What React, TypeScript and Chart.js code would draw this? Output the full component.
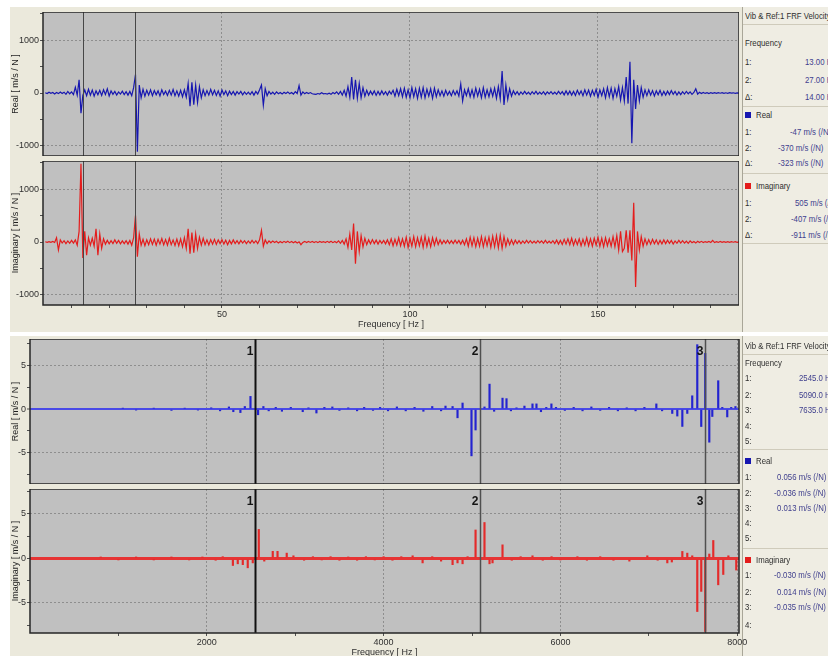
import React, { useEffect, useRef } from 'react';
import { Chart, registerables } from 'chart.js';

Chart.register(...registerables);

const FONT = '"Liberation Sans", Arial, sans-serif';
const FIG_BG = '#ebe9dc';
const LEG_BG = '#efede3';
const PLOT_BG = '#c0c0c0';
const GRID = '#8e8e8e';
const BLUE = '#1616b0';
const RED = '#e41c1c';
const BLUE_BAR = '#2323d0';
const RED_BAR = '#e42a2a';
const TICK_COLOR = '#303030';

// ---------- Top figure: FRF 0-188 Hz, sampled every 0.5 Hz starting at 3 Hz ----------
const TOP_F_START = 3;
const TOP_F_STEP = 0.5;
const TOP_X_MIN = 2.4;
const TOP_X_MAX = 187.5;
const TOP_Y_MIN = -1190;
const TOP_Y_MAX = 1530;
const TOP_CURSORS = [13, 27];
const TOP_X_TICKS = [10, 20, 30, 40, 50, 60, 70, 80, 90, 100, 110, 120, 130, 140, 150, 160, 170, 180];
const TOP_X_LABELS = [50, 100, 150];
const TOP_Y_TICKS = [-1000, -500, 0, 500, 1000, 1500];
const TOP_Y_LABELS = [-1000, 0, 1000];
const TOP_Y_GRID = [-1000, 1000];

const TOP_REAL = [
  5, -10, 15, -5, 10, -20, 8, -12, 20, -8,
  15, -25, 30, -15, 20, -30, 110, -40, 250, -380,
  -47, 60, -50, 70, -40, 55, -60, 40, -35, 50,
  -45, 60, -30, 80, -55, 40, -25, 30, -40, 20,
  -20, 35, -30, 25, -40, 30, -50, 100, 350, -1110,
  150, -90, 70, -60, 50, -40, 60, -50, 45, -35,
  40, -55, 60, -30, 35, -45, 50, -40, 65, -50,
  40, -60, 50, -70, 60, -80, 180, -250, 200, -220,
  150, -180, 120, -90, 60, -50, 45, -40, 70, -35,
  50, -45, 40, -60, 55, -30, 40, -50, 35, -30,
  30, -40, 25, -20, 30, -35, 20, -25, 15, -30,
  25, -40, 30, -20, 60, 150, -230, 80, -50, 30,
  -20, 15, -25, 20, -15, 10, -20, 15, -10, 20,
  -15, 10, -20, 25, -10, 140, -40, 20, -15, 10,
  -10, 8, -15, -20, -25, -10, -20, 5, -15, -10,
  -20, -5, -25, 10, -15, 20, -25, 30, -40, 50,
  -60, 120, -80, 300, -120, 250, -100, 180, -90, 100,
  -60, 50, -40, 35, -30, 40, -45, 30, -35, 40,
  -30, 25, -40, 35, -20, 50, -60, 70, -50, 80,
  -70, 90, -80, 60, -90, 100, -70, 80, -100, 90,
  -80, 100, -90, 70, -60, 80, -100, 90, -70, 60,
  -50, 40, -60, 50, -40, 30, -50, 45, -35, 40,
  -60, 170, -150, 60, -50, 80, -70, 60, -80, 90,
  -60, 70, -90, 100, -80, 60, -70, 80, -60, 90,
  -100, 120, -110, 415, -225, 150, -120, 80, -60, 40,
  -30, 25, -35, 20, -25, 30, -20, 15, -30, 25,
  -20, 30, -25, 15, -20, 25, -30, 20, -15, 25,
  -20, 15, -25, 30, -20, 25, -35, 40, -30, 35,
  -40, 30, -45, 50, -30, 40, -50, 60, -40, 55,
  -60, 50, -45, 70, -80, 60, -50, 80, -90, 100,
  -70, 90, -100, 80, -60, 120, -130, 100, -150, 300,
  -200, 590, -950, 250, -300, 150, -150, 100, -80, 60,
  -50, 60, -40, 45, -55, 40, -35, 50, -45, 30,
  -40, 35, -30, 45, -25, 30, -40, 20, -30, 25,
  -20, 30, -15, 20, -25, 10, 80, -20, 15, -10,
  10, -8, 6, -10, 8, -5, 5, -8, 6, -4,
  5, -6, 4, -5, 6, -3, 4, -5, 3, -4,
  3,
];

const TOP_IMAG = [
  5, -5, 8, -6, 10, -8, 80, -150, 40, -20,
  25, -30, 20, -25, 30, -20, 40, -60, 200, 1480,
  -300, 200, -250, 80, -60, 70, -80, 250, -250, 150,
  -120, 60, -40, 30, -35, 25, -30, 40, -25, 30,
  -35, 20, -30, 25, -40, 30, -60, 80, 500, -280,
  150, -60, 50, -70, 40, -50, 60, -45, 55, -60,
  50, -40, 65, -55, 45, -60, 70, -50, 40, -65,
  55, -70, 60, -90, 80, -120, 250, -220, 180, -200,
  150, -120, 90, -60, 70, -50, 40, -55, 45, -40,
  50, -45, 40, -30, 45, -40, 35, -50, 30, -35,
  40, -30, 25, -35, 30, -20, 25, -30, 20, -25,
  30, -20, 25, -30, 40, 220, -80, 40, -30, 20,
  -15, 20, -10, 15, -20, 10, -15, 12, -10, 15,
  -12, 10, -15, 8, -20, 5, -50, -8, 12, -10,
  10, -8, 12, -10, 8, -12, 10, -6, 8, -10,
  12, -10, 15, -12, 10, -15, 20, -25, 30, -40,
  60, -100, 150, -150, 350, -410, 200, -180, 120, -90,
  70, -50, 40, -35, 45, -30, 35, -40, 30, -25,
  30, -35, 40, -50, 60, -70, 50, -60, 80, -70,
  60, -80, 90, -100, 70, -80, 100, -90, 80, -70,
  90, -100, 110, -80, 70, -90, 80, -60, 70, -50,
  40, -35, 30, -25, 35, -30, 25, -30, 35, -25,
  30, -40, 35, -50, 60, -80, 90, -70, 80, -90,
  70, -80, 100, -90, 80, -70, 90, -100, 110, -90,
  120, -110, 130, -120, 100, -80, 60, -50, 40, -45,
  35, -30, 25, -30, 20, -25, 30, -20, 25, -20,
  15, -20, 25, -15, 20, -25, 30, -20, 15, -20,
  25, -30, 35, -40, 30, -45, 50, -40, 60, -50,
  70, -60, 45, -50, 60, -70, 50, -60, 80, -70,
  60, -80, 70, -60, 90, -80, 70, -90, 80, -70,
  60, -80, 100, -90, 120, -150, 200, -180, -120, 220,
  -200, 220, -350, 740, -850, 200, -150, 100, -80, 60,
  -50, 45, -40, 50, -35, 40, -45, 30, -35, 40,
  -30, 35, -25, 30, -40, 20, -25, 30, -20, 25,
  -20, 15, -25, 20, -15, 10, -20, 15, -10, 12,
  -10, 8, -6, 10, -8, 30, -10, 6, -8, 10,
  -6, 8, -5, 6, -8, 5, -4, 6, -5, 4,
  -3,
];

// ---------- Bottom figure: FRF 0-8000 Hz, line spectrum ----------
const BOT_X_MIN = 0;
const BOT_X_MAX = 8020;
const BOT_CURSORS = [2545, 5090, 7635];
const BOT_X_TICKS = [1000, 2000, 3000, 4000, 5000, 6000, 7000, 8000];
const BOT_X_LABELS = [2000, 4000, 6000, 8000];
const BOT_Y_TICKS = [-7.5, -5, -2.5, 0, 2.5, 5, 7.5];
const BOT_Y_LABELS = [-5, 0, 5];
const BOT_Y_GRID = [-5, 5];

const BOT_REAL_F = [
  1050, 1200, 1400, 1600, 1750, 1900, 2050, 2150, 2250, 2300, 2380, 2430, 2494, 2580, 2640,
  2700, 2780, 2850, 2950, 3085, 3150, 3240, 3330, 3420, 3500, 3600, 3700, 3780, 3880, 3960,
  4050, 4150, 4250, 4350, 4450, 4550, 4650, 4700, 4780, 4836, 4893, 4994, 5040, 5141, 5198,
  5250, 5345, 5390, 5440, 5503, 5593, 5684, 5729, 5780, 5840, 5898, 5950, 6050, 6150, 6250,
  6350, 6450, 6550, 6650, 6750, 6850, 6950, 7085, 7150, 7265, 7322, 7379, 7435, 7491, 7548,
  7593, 7638, 7684, 7718, 7785, 7831, 7887, 7932, 7980,
];
const BOT_REAL_V = [
  0.1, -0.1, 0.1, -0.15, 0.1, -0.1, 0.15, -0.2, 0.25, -0.3, -0.4, 0.3, 1.46, -0.65, 0.3,
  -0.2, 0.2, -0.25, 0.2, -0.3, 0.15, -0.45, 0.2, 0.25, -0.15, 0.15, -0.2, 0.2, -0.15, 0.2,
  -0.2, 0.25, -0.2, 0.2, -0.25, 0.3, -0.2, 0.35, 0.3, -1.0, 0.7, -5.37, -2.4, 0.25, 2.87,
  -0.25, 1.26, 1.2, -0.2, 0.15, 0.35, 0.6, 0.6, -0.3, 0.2, 0.6, 0.2, -0.15, 0.2, -0.2,
  0.25, -0.15, 0.2, -0.2, 0.15, -0.2, 0.2, 0.6, -0.2, -0.5, -0.8, -1.99, -0.5, 1.53, 7.4,
  -2.0, 6.4, -3.8, -0.85, 3.26, 0.2, -0.9, 0.2, 0.3,
];

const BOT_IMAG_F = [
  800, 1000, 1200, 1400, 1600, 1800, 1950, 2100, 2180, 2295, 2350, 2407, 2463, 2520, 2588,
  2650, 2746, 2800, 2904, 2980, 3100, 3200, 3300, 3400, 3500, 3600, 3700, 3800, 3900, 4000,
  4100, 4200, 4328, 4441, 4550, 4650, 4780, 4836, 4893, 4950, 5040, 5141, 5198, 5232, 5345,
  5450, 5550, 5684, 5800, 5900, 6000, 6192, 6300, 6450, 6600, 6780, 6983, 7100, 7209, 7260,
  7379, 7435, 7491, 7548, 7593, 7638, 7684, 7729, 7785, 7842, 7900, 7989,
];
const BOT_IMAG_V = [
  0.1, -0.1, 0.1, -0.1, 0.1, -0.15, 0.1, -0.2, 0.2, -0.79, -0.6, -0.7, -1.05, -0.5, 3.26,
  -0.3, 0.8, 0.8, 0.6, 0.3, -0.2, 0.2, -0.15, 0.2, -0.2, 0.15, -0.2, 0.2, -0.15, 0.2,
  -0.2, 0.2, 0.3, -0.5, 0.2, -0.3, -0.7, -0.5, -0.6, 0.2, 3.2, 4.04, -0.6, -0.5, 1.53,
  -0.2, 0.2, 0.3, -0.2, 0.2, -0.15, 0.2, -0.2, 0.2, -0.2, -0.3, 0.3, -0.2, -0.5, -0.4,
  0.79, 0.6, 0.3, -5.96, -3.7, -8.2, 0.5, 2.02, -2.96, -1.8, 0.3, -1.3,
];

// ---------- Legend texts ----------
const LEGEND_TITLE = 'Vib & Ref:1 FRF Velocity...';
const TOP_LEG_LABELS = ['1:', '2:', '\u0394:'];
const TOP_LEG_FREQ = ['13.00 Hz', '27.00 Hz', '14.00 Hz'];
const TOP_LEG_REAL = ['-47 m/s (/N)', '-370 m/s (/N)', '-323 m/s (/N)'];
const TOP_LEG_IMAG = ['505 m/s (/N)', '-407 m/s (/N)', '-911 m/s (/N)'];
const BOT_LEG_LABELS = ['1:', '2:', '3:', '4:', '5:'];
const BOT_LEG_FREQ = ['2545.0 Hz', '5090.0 Hz', '7635.0 Hz', '', ''];
const BOT_LEG_REAL = ['0.056 m/s (/N)', '-0.036 m/s (/N)', '0.013 m/s (/N)', '', ''];
const BOT_LEG_IMAG = ['-0.030 m/s (/N)', '0.014 m/s (/N)', '-0.035 m/s (/N)', ''];

// ---------- helpers ----------
const tickFont = { family: FONT, size: 9 };
const has = (arr: number[], v: number) => arr.some((a) => Math.abs(a - v) < 1e-9);

const panelPlugin = {
  id: 'panel',
  beforeDraw(chart: any) {
    const { ctx, chartArea: a } = chart;
    ctx.save();
    ctx.fillStyle = PLOT_BG;
    ctx.fillRect(a.left, a.top, a.right - a.left, a.bottom - a.top);
    ctx.restore();
  },
  afterDatasetsDraw(chart: any, _args: any, opts: any) {
    const { ctx, chartArea: a, scales } = chart;
    const xs = scales.x;
    ctx.save();
    (opts.cursors || []).forEach((c: number, i: number) => {
      const px = Math.round(xs.getPixelForValue(c)) + 0.5;
      ctx.strokeStyle = opts.colors[i];
      ctx.lineWidth = opts.widths[i];
      ctx.beginPath();
      ctx.moveTo(px, a.top);
      ctx.lineTo(px, a.bottom);
      ctx.stroke();
      if (opts.labels) {
        ctx.fillStyle = '#151515';
        ctx.font = 'bold 12px "Liberation Sans", Arial, sans-serif';
        ctx.textAlign = 'right';
        ctx.textBaseline = 'middle';
        ctx.fillText(String(i + 1), px - 2, a.top + 13);
      }
    });
    ctx.strokeStyle = '#262626';
    ctx.lineWidth = 1.5;
    ctx.strokeRect(a.left, a.top, a.right - a.left, a.bottom - a.top);
    ctx.restore();
  },
};

function zeroPadding(s: any) {
  s.paddingTop = 0;
  s.paddingBottom = 0;
  s.paddingLeft = 0;
  s.paddingRight = 0;
}

function xScale(min: number, max: number, tickVals: number[], labelVals: number[], showLabels: boolean, title: string | null, height: number) {
  return {
    type: 'linear',
    min,
    max,
    offset: false,
    afterBuildTicks: (s: any) => {
      s.ticks = tickVals.map((v) => ({ value: v }));
    },
    ticks: {
      display: showLabels,
      autoSkip: false,
      maxRotation: 0,
      minRotation: 0,
      font: tickFont,
      color: TICK_COLOR,
      padding: 1,
      callback: (v: number) => (has(labelVals, v) ? String(v) : ''),
    },
    grid: {
      offset: false,
      drawTicks: showLabels,
      tickLength: 3,
      tickColor: '#505050',
      tickWidth: 1,
      lineWidth: 1,
      color: (c: any) => (c.tick && has(labelVals, c.tick.value) ? GRID : 'transparent'),
    },
    border: { display: false, dash: [2, 2] },
    title: title
      ? { display: true, text: title, font: tickFont, color: TICK_COLOR, padding: { top: 0, bottom: 2 } }
      : { display: false },
    afterFit: (s: any) => {
      s.height = height;
      zeroPadding(s);
    },
  };
}

function yScale(min: number, max: number, tickVals: number[], labelVals: number[], gridVals: number[], zeroColor: string | null, zeroWidth: number, title: string, width: number) {
  return {
    min,
    max,
    afterBuildTicks: (s: any) => {
      s.ticks = tickVals.map((v) => ({ value: v }));
    },
    ticks: {
      autoSkip: false,
      font: tickFont,
      color: TICK_COLOR,
      padding: 1,
      callback: (v: number) => (has(labelVals, v) ? String(v) : ''),
    },
    grid: {
      drawTicks: true,
      tickLength: 3,
      tickColor: '#505050',
      tickWidth: 1,
      color: (c: any) => {
        const v = c.tick ? c.tick.value : NaN;
        if (v === 0 && zeroColor) return zeroColor;
        return has(gridVals, v) ? GRID : 'transparent';
      },
      lineWidth: (c: any) => (c.tick && c.tick.value === 0 && zeroColor ? zeroWidth : 1),
    },
    border: { display: false, dash: (c: any) => (c.tick && c.tick.value === 0 ? [] : [2, 2]) },
    title: { display: true, text: title, font: tickFont, color: '#1e1e1e', padding: { top: 0, bottom: 0 } },
    afterFit: (s: any) => {
      s.width = width;
      zeroPadding(s);
    },
  };
}

function baseOptions(scales: any, panel: any, padRight: number) {
  return {
    responsive: false,
    maintainAspectRatio: false,
    animation: false,
    events: [],
    layout: { autoPadding: false, padding: { left: 0, top: 0, bottom: 0, right: padRight } },
    plugins: { legend: { display: false }, tooltip: { enabled: false }, panel },
    scales,
  };
}

const topPts = (vals: number[]) => vals.map((v, i) => ({ x: TOP_F_START + i * TOP_F_STEP, y: v }));
const stickPts = (fs: number[], vs: number[]) => fs.map((f, i) => ({ x: f, y: vs[i] }));

function buildTop(values: number[], color: string, title: string, withAxis: boolean) {
  return {
    type: 'line',
    data: {
      datasets: [
        { data: topPts(values), borderColor: color, borderWidth: 1.2, pointRadius: 0, tension: 0, fill: false },
      ],
    },
    options: baseOptions(
      {
        x: xScale(TOP_X_MIN, TOP_X_MAX, TOP_X_TICKS, TOP_X_LABELS, withAxis, withAxis ? 'Frequency [ Hz ]' : null, withAxis ? 27 : 0),
        y: yScale(TOP_Y_MIN, TOP_Y_MAX, TOP_Y_TICKS, TOP_Y_LABELS, TOP_Y_GRID, null, 1, title, 33),
      },
      { cursors: TOP_CURSORS, colors: ['#474747', '#474747'], widths: [1, 1], labels: false },
      0
    ),
    plugins: [panelPlugin],
  };
}

function buildBottom(fs: number[], vs: number[], color: string, baseColor: string, baseWidth: number, yMin: number, yMax: number, title: string, withAxis: boolean) {
  return {
    type: 'line',
    data: {
      datasets: [
        { type: 'bar', data: stickPts(fs, vs), backgroundColor: color, borderWidth: 0, barThickness: 1.5, grouped: false },
      ],
    },
    options: baseOptions(
      {
        x: xScale(BOT_X_MIN, BOT_X_MAX, BOT_X_TICKS, BOT_X_LABELS, withAxis, withAxis ? 'Frequency [ Hz ]' : null, withAxis ? 27 : 0),
        y: yScale(yMin, yMax, BOT_Y_TICKS, BOT_Y_LABELS, BOT_Y_GRID, baseColor, baseWidth, title, 20),
      },
      { cursors: BOT_CURSORS, colors: ['#101010', '#505050', '#505050'], widths: [2, 1.5, 1.5], labels: true },
      11
    ),
    plugins: [panelPlugin],
  };
}

function ChartBox({ left, top, width, height, build }: { left: number; top: number; width: number; height: number; build: () => any }) {
  const ref = useRef<HTMLCanvasElement>(null);
  useEffect(() => {
    const chart = new Chart(ref.current as HTMLCanvasElement, build());
    return () => chart.destroy();
  }, []);
  return (
    <canvas
      ref={ref}
      width={width}
      height={height}
      style={{ position: 'absolute', left, top, width, height, display: 'block' }}
    />
  );
}

function Txt({ x, y, text, color }: { x: number; y: number; text: string; color?: string }) {
  return (
    <div
      style={{
        position: 'absolute',
        left: x,
        top: y - 6,
        height: 12,
        lineHeight: '12px',
        fontSize: 9.5,
        fontFamily: FONT,
        color: color || '#2e2e2e',
        whiteSpace: 'nowrap',
        transform: 'scaleX(0.82)',
        transformOrigin: '0 50%',
      }}
    >
      {text}
    </div>
  );
}

function Sep({ y }: { y: number }) {
  return <div style={{ position: 'absolute', left: 743, top: y, width: 90, height: 1, background: '#cfcbbb' }} />;
}

function Square({ y, color }: { y: number; color: string }) {
  return <div style={{ position: 'absolute', left: 745, top: y - 3, width: 6, height: 6, background: color }} />;
}

const VAL_COLOR = '#40408e';

export default function App() {
  const topFreqY = [62, 80, 97];
  const topRealY = [132, 148, 163];
  const topImagY = [203, 219, 235];
  const topFreqX = [805, 805, 805];
  const topRealX = [790, 778, 778];
  const topImagX = [795, 791, 791];

  const botFreqY = [378, 395, 410, 426, 441];
  const botRealY = [477, 493, 508, 523, 538];
  const botImagY = [575, 592, 607, 625];
  const botFreqX = [799, 799, 799, 799, 799];
  const botRealX = [777, 774, 777, 777, 777];
  const botImagX = [774, 777, 774, 774];

  return (
    <div style={{ position: 'fixed', left: 0, top: 0, width: 828, height: 656, overflow: 'hidden', background: '#ffffff' }}>
      <div style={{ position: 'absolute', left: 10, top: 7, width: 818, height: 325, background: FIG_BG }} />
      <div style={{ position: 'absolute', left: 10, top: 336, width: 818, height: 320, background: FIG_BG }} />
      <div style={{ position: 'absolute', left: 742, top: 7, width: 86, height: 325, background: LEG_BG, borderLeft: '1px solid #a9a698' }} />
      <div style={{ position: 'absolute', left: 742, top: 336, width: 86, height: 320, background: LEG_BG, borderLeft: '1px solid #a9a698' }} />

      <ChartBox left={10} top={12} width={729} height={144} build={() => buildTop(TOP_REAL, BLUE, 'Real [ m/s / N ]', false)} />
      <ChartBox left={10} top={161} width={729} height={171} build={() => buildTop(TOP_IMAG, RED, 'Imaginary [ m/s / N ]', true)} />
      <ChartBox
        left={10}
        top={339}
        width={740}
        height={145}
        build={() => buildBottom(BOT_REAL_F, BOT_REAL_V, BLUE_BAR, '#4a4ae6', 2, -8.6, 8.05, 'Real [ m/s / N ]', false)}
      />
      <ChartBox
        left={10}
        top={489}
        width={740}
        height={171}
        build={() => buildBottom(BOT_IMAG_F, BOT_IMAG_V, RED_BAR, '#e63434', 3, -8.37, 7.8, 'Imaginary [ m/s / N ]', true)}
      />

      <Txt x={745} y={16} text={LEGEND_TITLE} />
      <Sep y={24} />
      <Txt x={745} y={43} text="Frequency" />
      {TOP_LEG_LABELS.map((l, i) => (
        <React.Fragment key={'tf' + i}>
          <Txt x={745} y={topFreqY[i]} text={l} />
          <Txt x={topFreqX[i]} y={topFreqY[i]} text={TOP_LEG_FREQ[i]} color={VAL_COLOR} />
        </React.Fragment>
      ))}
      <Sep y={106} />
      <Square y={115} color={BLUE} />
      <Txt x={756} y={115} text="Real" />
      {TOP_LEG_LABELS.map((l, i) => (
        <React.Fragment key={'tr' + i}>
          <Txt x={745} y={topRealY[i]} text={l} />
          <Txt x={topRealX[i]} y={topRealY[i]} text={TOP_LEG_REAL[i]} color={VAL_COLOR} />
        </React.Fragment>
      ))}
      <Sep y={173} />
      <Square y={186} color={RED} />
      <Txt x={756} y={186} text="Imaginary" />
      {TOP_LEG_LABELS.map((l, i) => (
        <React.Fragment key={'ti' + i}>
          <Txt x={745} y={topImagY[i]} text={l} />
          <Txt x={topImagX[i]} y={topImagY[i]} text={TOP_LEG_IMAG[i]} color={VAL_COLOR} />
        </React.Fragment>
      ))}
      <Sep y={243} />

      <Txt x={745} y={346} text={LEGEND_TITLE} />
      <Sep y={354} />
      <Txt x={745} y={363} text="Frequency" />
      {BOT_LEG_LABELS.map((l, i) => (
        <React.Fragment key={'bf' + i}>
          <Txt x={745} y={botFreqY[i]} text={l} />
          <Txt x={botFreqX[i]} y={botFreqY[i]} text={BOT_LEG_FREQ[i]} color={VAL_COLOR} />
        </React.Fragment>
      ))}
      <Sep y={449} />
      <Square y={461} color={BLUE} />
      <Txt x={756} y={461} text="Real" />
      {BOT_LEG_LABELS.map((l, i) => (
        <React.Fragment key={'br' + i}>
          <Txt x={745} y={botRealY[i]} text={l} />
          <Txt x={botRealX[i]} y={botRealY[i]} text={BOT_LEG_REAL[i]} color={VAL_COLOR} />
        </React.Fragment>
      ))}
      <Sep y={548} />
      <Square y={560} color={RED} />
      <Txt x={756} y={560} text="Imaginary" />
      {BOT_LEG_IMAG.map((v, i) => (
        <React.Fragment key={'bi' + i}>
          <Txt x={745} y={botImagY[i]} text={BOT_LEG_LABELS[i]} />
          <Txt x={botImagX[i]} y={botImagY[i]} text={v} color={VAL_COLOR} />
        </React.Fragment>
      ))}
    </div>
  );
}
